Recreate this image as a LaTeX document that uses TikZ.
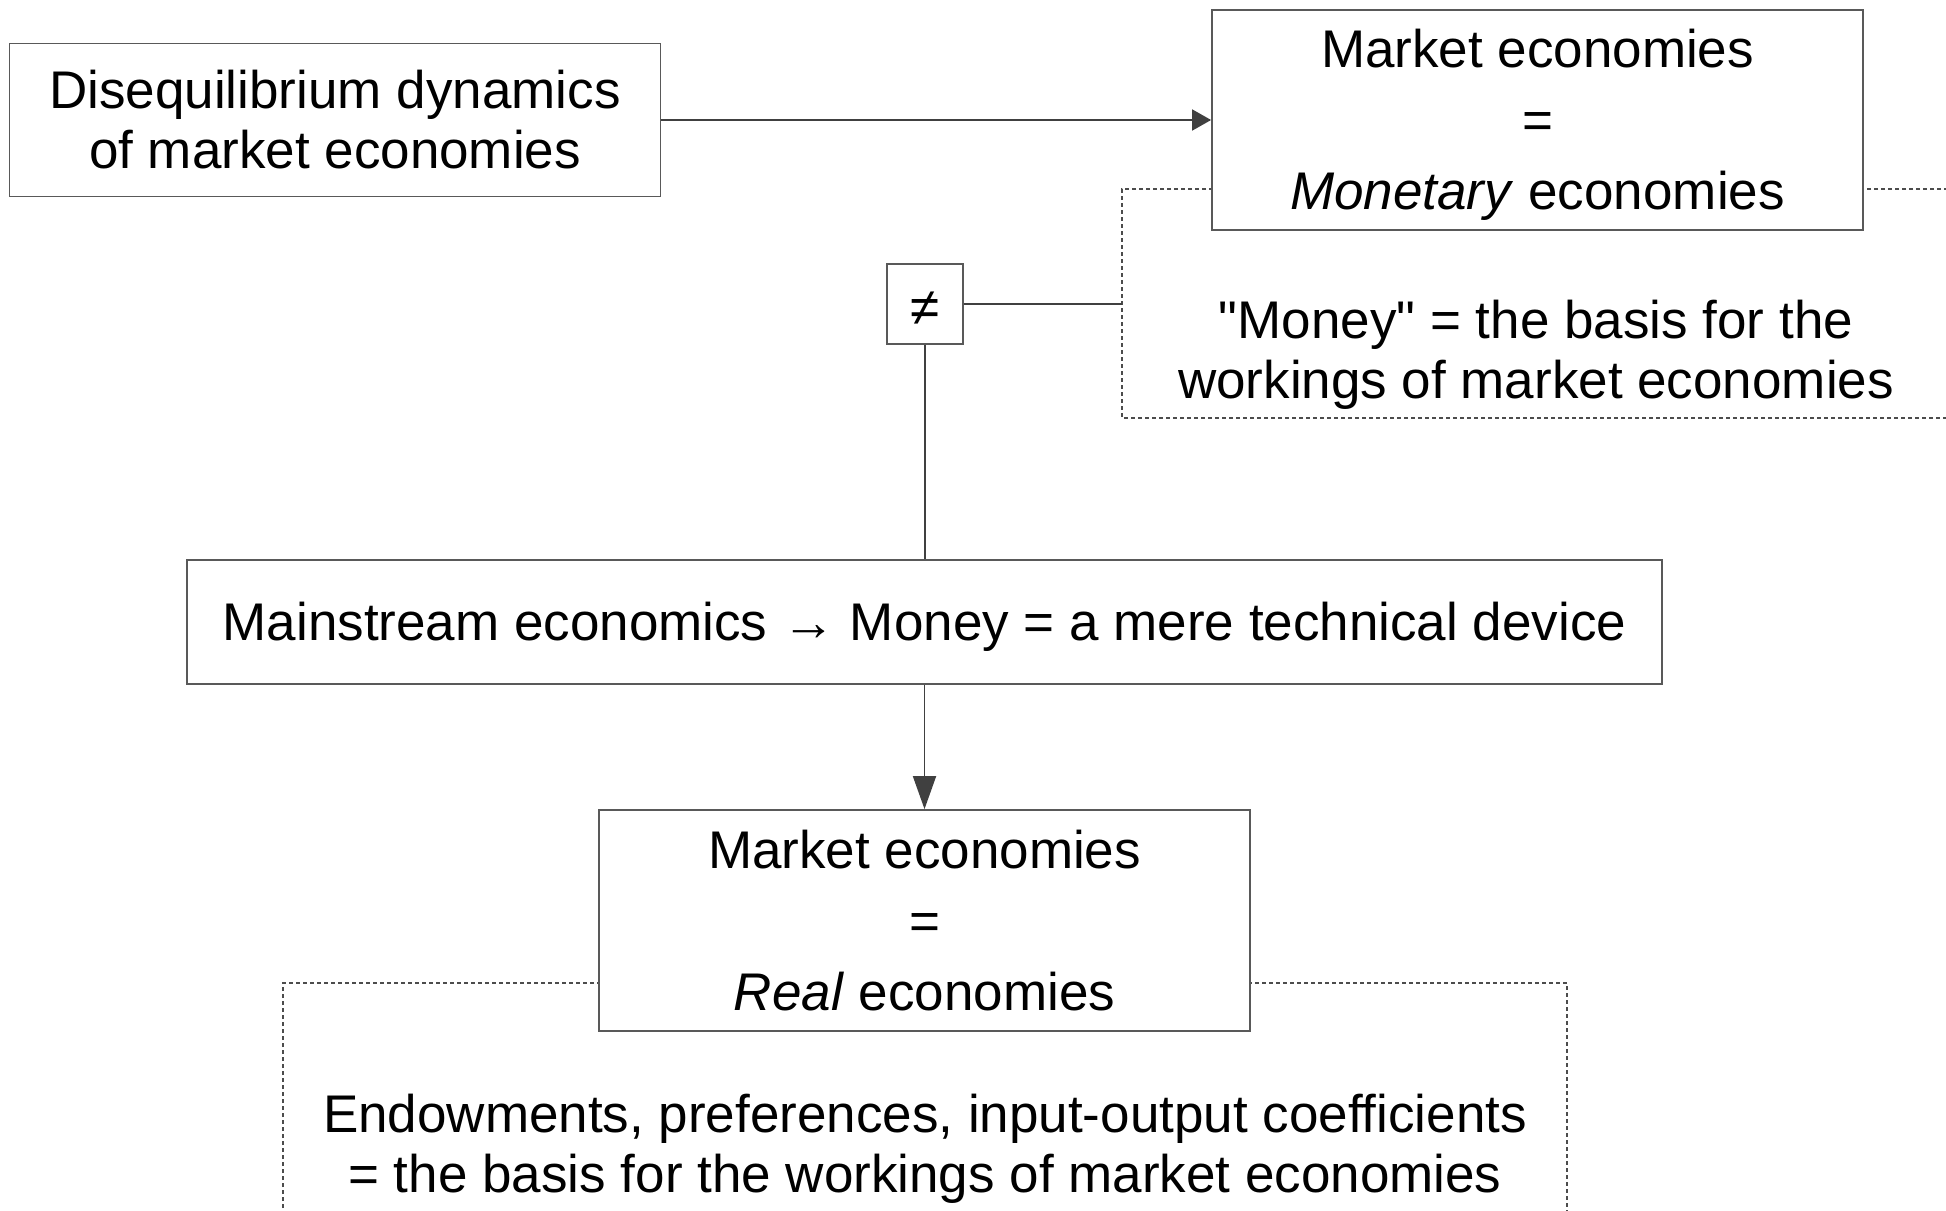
\documentclass[tikz,border=0pt]{standalone}
\usepackage{fontspec}
\setmainfont{Liberation Sans}[Ligatures=TeXOff]
\usetikzlibrary{arrows.meta}
\tikzset{
  boxnode/.style={draw=gray!70!black, line width=1.8pt, fill=white, rectangle, inner sep=0pt, align=center, text=black,
    font=\fontsize{53pt}{60pt}\selectfont},
  txt/.style={inner sep=0pt, align=center, text=black, yshift=-5pt, font=\fontsize{53pt}{60pt}\selectfont},
  talltxt/.style={txt, font=\fontsize{53pt}{71pt}\selectfont},
  plaintext/.style={inner sep=0pt, align=center, text=black, font=\fontsize{53pt}{60pt}\selectfont},
  dashbox/.style={draw=gray!60!black, line width=1.2pt, dash pattern=on 4pt off 3pt},
  conn/.style={draw=gray!50!black, line width=1.8pt},
  harrow/.style={conn, -{Triangle[length=19pt,width=21pt]}},
  varrow/.style={conn, -{Triangle[length=33pt,width=23pt]}}
}
\begin{document}
\begin{tikzpicture}[x=1pt,y=-1pt]
\useasboundingbox (0,0) rectangle (1946,1210);
\clip (0,0) rectangle (1946,1210);
\fill[white] (0,0) rectangle (1946,1210);

% dashed frames
\draw[dashbox] (1990,189) -- (1122,189) -- (1122,418) -- (1990,418);
\coordinate (d1w) at (1122,304);
\draw[dashbox] (283,1250) -- (283,983) -- (1567,983) -- (1567,1250);

% text in dashed frames
\node[plaintext] (t1) at (1536,355) {"Money" = the basis for the\\workings of market economies};
\node[plaintext] (t2) at (925,1149) {Endowments, preferences, input-output coefficients\\= the basis for the workings of market economies};

% boxes
\node[boxnode, minimum width=651pt, minimum height=153pt,
  label={[txt, yshift=5pt]center:{Disequilibrium dynamics\\of market economies}}] (b1) at (335,120) {};
\node[boxnode, minimum width=651pt, minimum height=220pt,
  label={[talltxt]center:{Market economies\\=\\\textit{Monetary} economies}}] (b2) at (1537.5,120) {};
\node[boxnode, minimum width=76pt, minimum height=80pt,
  label={[txt]center:{≠}}] (neq) at (925,304) {};
\node[boxnode, minimum width=1475pt, minimum height=124pt,
  label={[txt]center:{Mainstream economics → Money = a mere technical device}}] (ms) at (924.5,622) {};
\node[boxnode, minimum width=651pt, minimum height=221pt,
  label={[talltxt, yshift=5pt]center:{Market economies\\=\\\textit{Real} economies}}] (b3) at (924.5,920.5) {};

% connectors
\draw[harrow] (b1.east) -- (b2.west);
\draw[conn] (neq.east) -- (d1w);
\draw[conn] (neq.south) -- (neq.south |- ms.north);
\draw[varrow] (ms.south) -- (b3.north);
\end{tikzpicture}
\end{document}
